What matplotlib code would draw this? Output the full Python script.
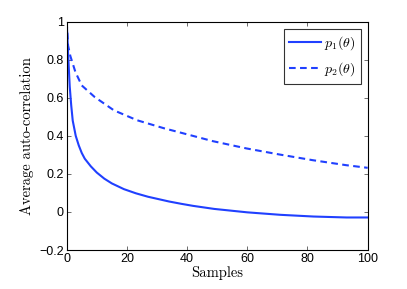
import matplotlib
matplotlib.use("Agg")
import matplotlib.pyplot as plt

# Data
x_p1 = [0, 0.5, 1, 1.5, 2, 3, 4, 5, 6, 8, 10, 12.5, 15, 19, 23, 27, 34, 38, 42, 49, 60, 71, 82, 93, 100]
y_p1 = [1.0, 0.82, 0.66, 0.56, 0.48, 0.40, 0.35, 0.31, 0.28, 0.24, 0.207, 0.175, 0.15, 0.12, 0.098,
        0.08, 0.055, 0.043, 0.032, 0.016, -0.002, -0.015, -0.024, -0.029, -0.029]
x_p2 = [0, 0.45, 1.2, 2.9, 5, 9.3, 15.7, 23.4, 32.3, 37.6, 48.6, 59.7, 70.7, 81.8, 92.8, 100]
y_p2 = [1.0, 0.875, 0.82, 0.735, 0.665, 0.604, 0.534, 0.482, 0.44, 0.418, 0.372, 0.334, 0.302,
        0.272, 0.246, 0.232]
labels = [r'$p_1(\theta)$', r'$p_2(\theta)$']
xticks = [0, 20, 40, 60, 80, 100]
yticks = [-0.2, 0, 0.2, 0.4, 0.6, 0.8, 1]

plt.rcParams['mathtext.fontset'] = 'cm'
plt.rcParams['font.family'] = ['Liberation Sans', 'DejaVu Sans']

fig = plt.figure(figsize=(4.07, 2.89), dpi=100)
ax = fig.add_axes([0.1639, 0.1349, 0.9034 - 0.1639, 0.9249 - 0.1349])

color = '#2040ff'
ax.plot(x_p1, y_p1, color=color, lw=1.5, label=labels[0])
ax.plot(x_p2, y_p2, color=color, lw=1.5, dashes=(3.2, 2.1), label=labels[1])

ax.set_xlim(0, 100)
ax.set_ylim(-0.2, 1)
ax.set_xticks(xticks)
ax.set_yticks(yticks)
ax.set_yticklabels(['\u22120.2', '0', '0.2', '0.4', '0.6', '0.8', '1'])
ax.tick_params(direction='in', length=3, width=0.6, top=True, right=True,
               labelsize=9, pad=2, color='#555555')
for s in ax.spines.values():
    s.set_linewidth(0.8)

ax.set_xlabel('Samples', fontfamily='cmr10', fontsize=10.5, labelpad=1)
ax.set_ylabel('Average auto-correlation', fontfamily='cmr10', fontsize=10.5, labelpad=4)

leg = ax.legend(loc='upper right', fontsize=10, frameon=True, fancybox=False,
                edgecolor='black', handlelength=2.3, handletextpad=0.2,
                borderaxespad=0.5, labelspacing=0.6, borderpad=0.4)
leg.get_frame().set_linewidth(0.8)

fig.savefig('out.png', dpi=100)
